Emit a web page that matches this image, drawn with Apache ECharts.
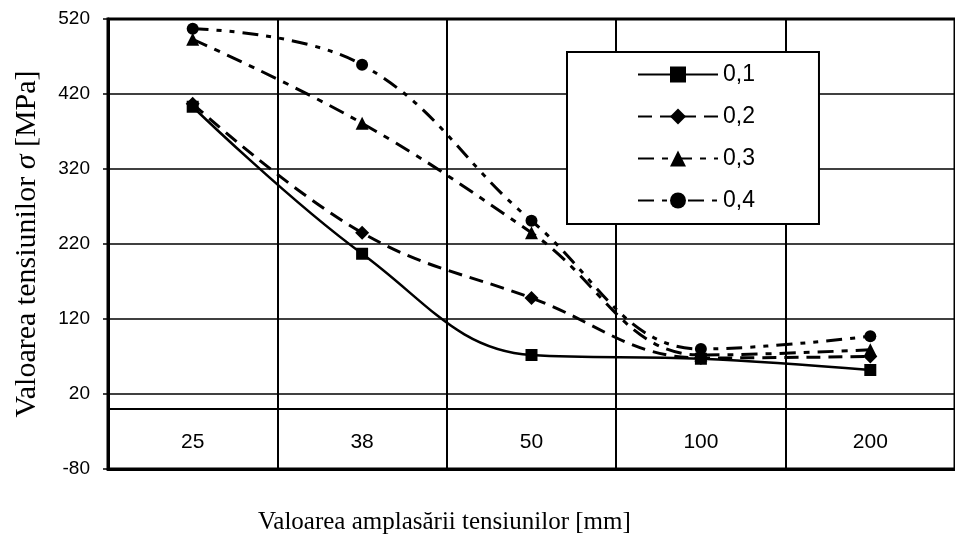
<!DOCTYPE html>
<html>
<head>
<meta charset="utf-8">
<script src="https://cdn.jsdelivr.net/npm/echarts@6/dist/echarts.min.js"></script>
<style>
html,body{margin:0;padding:0;background:#fff;}
#c{width:955px;height:538px;}
</style>
</head>
<body>
<div id="c"></div>
<script>
var categories = ['25', '38', '50', '100', '200'];
var seriesNames = ['0,1', '0,2', '0,3', '0,4'];
var s01 = [403, 207, 72, 67, 52];
var s02 = [407, 235, 148, 68, 70];
var s03 = [493, 381, 235, 72, 79];
var s04 = [507, 459, 251, 80, 97];
var yTicks = [-80, 20, 120, 220, 320, 420, 520];
var zeroLine = 0;

var chart = echarts.init(document.getElementById('c'), null, {renderer: 'canvas'});

function mk(name, data, symbol, size, dash, width) {
  return {
    name: name,
    type: 'line',
    data: data,
    smooth: 0.4,
    symbol: symbol,
    symbolSize: size,
    showSymbol: true,
    itemStyle: {color: '#000'},
    lineStyle: {color: '#000', width: width, type: dash},
    emphasis: {disabled: true},
    z: 3
  };
}

var series = [
  mk(seriesNames[0], s01, 'rect', 12, 'solid', 2.5),
  mk(seriesNames[1], s02, 'diamond', 14, [14, 8], 3),
  mk(seriesNames[2], s03, 'triangle', 13, [16, 8, 6, 8], 3),
  mk(seriesNames[3], s04, 'circle', 12, [16, 8, 5, 8, 5, 8], 3)
];
series[0].markLine = {
  silent: true,
  symbol: 'none',
  label: {show: false},
  lineStyle: {color: '#000', width: 2, type: 'solid'},
  data: [{yAxis: zeroLine}],
  z: 1
};

var option = {
  animation: false,
  backgroundColor: '#fff',
  title: {
    text: 'Valoarea amplasării tensiunilor [mm]',
    left: 253,
    top: 505,
    textStyle: {fontFamily: 'Liberation Serif', fontSize: 25, fontWeight: 'normal', color: '#000'}
  },
  grid: {
    left: 108, top: 19, width: 853, height: 450,
    show: true, borderColor: '#000', borderWidth: 3, backgroundColor: 'transparent'
  },
  legend: {
    orient: 'vertical',
    left: 567, top: 52,
    data: seriesNames,
    backgroundColor: '#fff',
    borderColor: '#000',
    borderWidth: 2,
    borderRadius: 0,
    padding: [11, 64, 12, 70],
    itemWidth: 80,
    itemHeight: 20,
    itemGap: 19,
    textStyle: {fontFamily: 'Liberation Sans', fontSize: 23, color: '#000'},
    z: 10
  },
  xAxis: {
    type: 'category',
    data: categories,
    boundaryGap: true,
    axisLine: {onZero: false, lineStyle: {color: '#000', width: 3}},
    axisTick: {show: false},
    axisLabel: {inside: true, margin: 16, fontFamily: 'Liberation Sans', fontSize: 21, color: '#000'},
    splitLine: {show: true, lineStyle: {color: '#000', width: 2}}
  },
  yAxis: {
    type: 'value',
    min: yTicks[0],
    max: yTicks[yTicks.length - 1],
    interval: 100,
    name: 'Valoarea tensiunilor {i|σ} [MPa]',
    nameLocation: 'middle',
    nameGap: 66,
    nameTextStyle: {
      fontFamily: 'Liberation Serif', fontSize: 30, color: '#000',
      rich: {i: {fontFamily: 'Liberation Serif', fontStyle: 'italic', fontSize: 30, color: '#000'}}
    },
    axisLine: {show: true, lineStyle: {color: '#000', width: 3}},
    axisTick: {show: true, length: 5, lineStyle: {color: '#000', width: 1.5}},
    axisLabel: {margin: 18, fontFamily: 'Liberation Sans', fontSize: 19, color: '#000'},
    splitLine: {show: true, lineStyle: {color: '#000', width: 1.5}}
  },
  series: series
};
chart.setOption(option);
</script>
</body>
</html>
